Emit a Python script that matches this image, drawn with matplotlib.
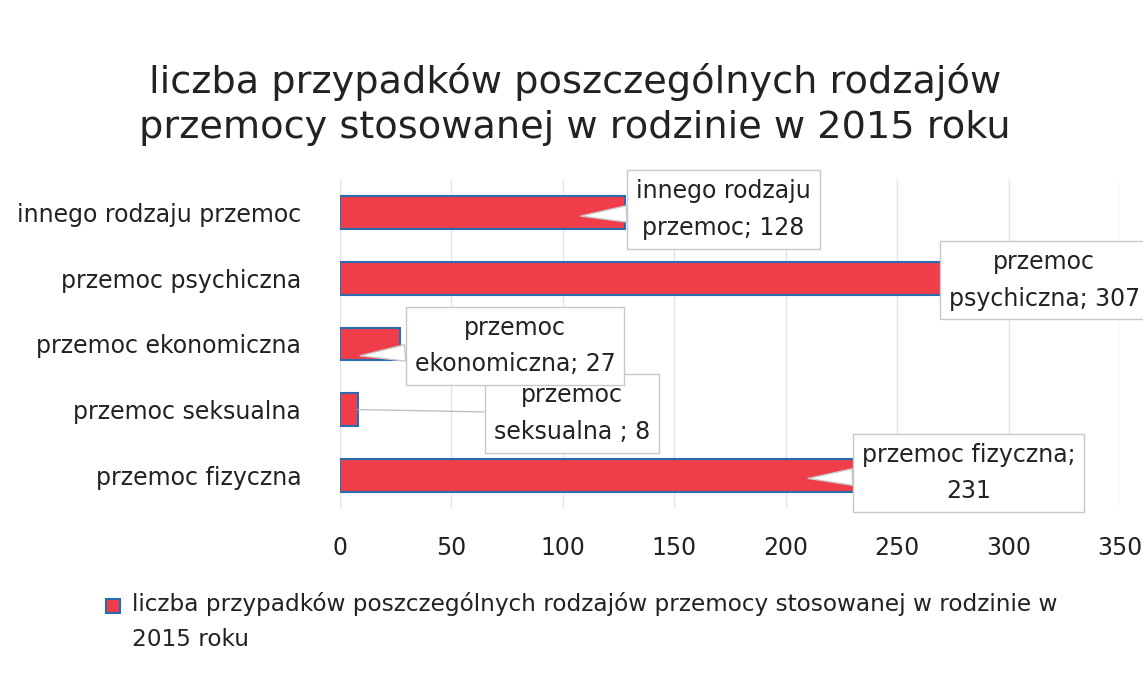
import matplotlib
matplotlib.use("Agg")
import matplotlib.pyplot as plt
from matplotlib.patches import Rectangle

# data (bottom -> top, like Excel)
categories = ["przemoc fizyczna", "przemoc seksualna", "przemoc ekonomiczna",
              "przemoc psychiczna", "innego rodzaju przemoc"]
values = [231, 8, 27, 307, 128]
label_texts = ["przemoc fizyczna;\n231", "przemoc\nseksualna ; 8",
               "przemoc\nekonomiczna; 27", "przemoc\npsychiczna; 307",
               "innego rodzaju\nprzemoc; 128"]
xticks = [0, 50, 100, 150, 200, 250, 300, 350]
title = "liczba przypadków poszczególnych rodzajów\nprzemocy stosowanej w rodzinie w 2015 roku"
legend_text = ("liczba przypadków poszczególnych rodzajów przemocy stosowanej w rodzinie w\n"
               "2015 roku")

plt.rcParams["font.family"] = ["DejaVu Sans"]
txt = "#222222"
red = "#ef3e4a"
blue = "#2b6cb0"

fig = plt.figure(figsize=(11.43, 6.74), dpi=100)
ax = fig.add_axes([0.2975, 0.2463, 0.6825, 0.4867])

y = list(range(len(categories)))
ax.barh(y, values, height=0.5, color=red, edgecolor=blue, linewidth=1.5, zorder=3)

ax.set_xlim(0, 350)
ax.set_ylim(-0.5, len(categories) - 0.5)
ax.set_xticks(xticks)
ax.set_yticks(y)
ax.set_yticklabels(categories)
ax.tick_params(axis="both", length=0, labelsize=17, colors=txt)
ax.tick_params(axis="y", pad=28)
ax.tick_params(axis="x", pad=20)
for s in ax.spines.values():
    s.set_visible(False)
ax.grid(axis="x", color="#e4e4e8", linewidth=1, zorder=0)
ax.set_axisbelow(True)

# data-label callouts: (text x, text y offset, pointer kind, pointer tip x, tip y offset)
label_pos = [(282, 0.03, "wedge", 210, -0.05), (104, -0.06, "line", 8, 0.0),
             (78.5, -0.03, "wedge", 9, -0.18), (316, -0.03, None, 0, 0),
             (172, 0.05, "wedge", 108, -0.05)]
box = dict(boxstyle="square,pad=0.38", fc="white", ec="#c8c8c8", lw=1)
for i, (lx, dy, kind, tx, tdy) in enumerate(label_pos):
    if kind == "wedge":
        ap = dict(arrowstyle="wedge,tail_width=0.7,shrink_factor=0.5",
                  fc="white", ec="#c8c8c8", lw=1, shrinkA=0, shrinkB=0)
    elif kind == "line":
        ap = dict(arrowstyle="-", color="#c0c0c0", lw=1, shrinkA=0, shrinkB=0)
    else:
        ap = None
    ax.annotate(label_texts[i], xy=(tx, i + tdy), xytext=(lx, i + dy), textcoords="data",
                ha="center", va="center", fontsize=17, color=txt,
                linespacing=1.65, bbox=box, arrowprops=ap, zorder=5,
                annotation_clip=False)

fig.text(0.503, 0.845, title, ha="center", va="center", fontsize=27.5,
         color=txt, linespacing=1.35)

# legend
fig.patches.append(Rectangle((106 / 1143, 1 - 613 / 674), 14 / 1143, 14 / 674,
                             transform=fig.transFigure, fc=red, ec=blue, lw=1.5))
fig.text(132 / 1143, 1 - 592 / 674, legend_text, ha="left", va="top",
         fontsize=16.7, color=txt, linespacing=1.65)

fig.savefig("out.png", dpi=100)
